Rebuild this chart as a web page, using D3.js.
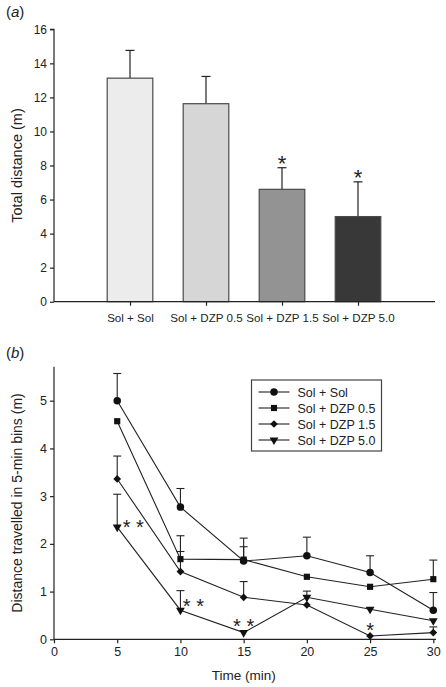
<!DOCTYPE html>
<html><head><meta charset="utf-8">
<script src="https://cdn.jsdelivr.net/npm/d3@7"></script>
<style>body{margin:0;background:#fff}svg{display:block;font-family:"Liberation Sans",Arial,sans-serif}</style>
</head><body><svg id="c" width="446" height="687"></svg>
<script>
// Panel (a)
const groups = ["Sol + Sol","Sol + DZP 0.5","Sol + DZP 1.5","Sol + DZP 5.0"];
const totalDist = [13.13, 11.63, 6.6, 5.0];
const totalErr = [1.63, 1.6, 1.27, 2.04];
const totalSig = ["", "", "*", "*"];
const barFills = ["#ececec","#d6d6d6","#939393","#383838"];
const yTicksA = [0,2,4,6,8,10,12,14,16];

// Panel (b)
const times = [5,10,15,20,25,30];
const xTicksB = [0,5,10,15,20,25,30];
const yTicksB = [0,1,2,3,4,5];
const sSolSol = [5.0, 2.77, 1.64, 1.75, 1.40, 0.61];
const sDZP05  = [4.57, 1.68, 1.67, 1.31, 1.10, 1.26];
const sDZP15  = [3.36, 1.42, 0.88, 0.72, 0.07, 0.14];
const sDZP50  = [2.35, 0.61, 0.14, 0.88, 0.63, 0.39];
const eSolSol = [0.57, 0.39, 0.48, 0.39, 0.35, 0.37];
const eDZP05  = [0, 0.49, 0.27, 0, 0, 0.40];
const eDZP15  = [0.48, 0.42, 0.33, 0, 0, 0.12];
const eDZP50  = [0.69, 0.41, 0, 0.13, 0, 0];
const seriesNames = groups;
const seriesSymbols = ["circle","square","diamond","triangleDown"];
const stars = [{t:5,v:2.44,s:"* *",dx:16},{t:10,v:0.79,s:"* *",dx:13},{t:15,v:0.37,s:"* *",dx:0},{t:25,v:0.28,s:"*",dx:0}];

const svg = d3.select("#c");
const ink = "#222";

// ---------- Panel (a) ----------
const xA = d3.scaleLinear().domain([0,5]).range([54,434]);
const yA = d3.scaleLinear().domain([0,16]).range([301.7,29.3]);
const gA = svg.append("g");
gA.append("text").attr("x",6).attr("y",17).attr("font-size",15).attr("fill",ink)
  .html('(<tspan font-style="italic">a</tspan>)');

const barW = xA(0.6)-xA(0);
groups.forEach((g,i)=>{
  const cx = xA(i+1);
  const top = yA(totalDist[i]+totalErr[i]);
  gA.append("line").attr("x1",cx).attr("x2",cx).attr("y1",yA(totalDist[i])).attr("y2",top)
    .attr("stroke",ink).attr("stroke-width",1.2);
  gA.append("line").attr("x1",cx-4.5).attr("x2",cx+4.5).attr("y1",top).attr("y2",top)
    .attr("stroke",ink).attr("stroke-width",1.2);
  gA.append("rect").attr("x",cx-barW/2).attr("y",yA(totalDist[i])).attr("width",barW)
    .attr("height",yA(0)-yA(totalDist[i])).attr("fill",barFills[i]).attr("stroke","#4a4a4a").attr("stroke-width",1.2);
  if (totalSig[i]) gA.append("text").attr("x",cx).attr("y",top+3)
    .attr("text-anchor","middle").attr("font-size",22).attr("fill",ink).text(totalSig[i]);
});

const axA = gA.append("g").attr("transform","translate(54,0)")
  .call(d3.axisLeft(yA).tickValues(yTicksA).tickSize(4).tickPadding(3));
axA.select(".domain").attr("d",`M-4,${yA(16)}H0V${yA(0)}`);
const xAxA = gA.append("g").attr("transform",`translate(0,${yA(0)})`)
  .call(d3.axisBottom(xA).tickValues([1,2,3,4]).tickSize(4).tickPadding(8).tickFormat((d)=>groups[d-1]));
xAxA.select(".domain").attr("d",`M54,0H435`);
[axA,xAxA].forEach(a=>{
  a.selectAll("path,line").attr("stroke",ink).attr("stroke-width",1.2);
  a.selectAll("text").attr("font-size",12).attr("fill",ink).attr("font-family","Liberation Sans, Arial, sans-serif");
});
xAxA.selectAll("text").attr("font-size",11.6);
gA.append("text").attr("transform",`translate(22,${(yA(16)+yA(0))/2}) rotate(-90)`)
  .attr("text-anchor","middle").attr("font-size",14.5).attr("fill",ink).text("Total distance (m)");

// ---------- Panel (b) ----------
const xB = d3.scaleLinear().domain([0,30]).range([54,433.3]);
const yB = d3.scaleLinear().domain([0,5]).range([639.3,400.7]);
const gB = svg.append("g");
gB.append("text").attr("x",6).attr("y",358).attr("font-size",15).attr("fill",ink)
  .html('(<tspan font-style="italic">b</tspan>)');

const axB = gB.append("g").attr("transform","translate(54,0)")
  .call(d3.axisLeft(yB).tickValues(yTicksB).tickSize(4).tickPadding(3).tickFormat(d3.format("d")));
axB.select(".domain").attr("d",`M0,366.7V${yB(0)}`);
const xAxB = gB.append("g").attr("transform",`translate(0,${yB(0)})`)
  .call(d3.axisBottom(xB).tickValues(xTicksB).tickSize(4).tickPadding(4).tickFormat(d3.format("d")));
xAxB.select(".domain").attr("d",`M54,0H436`);
[axB,xAxB].forEach(a=>{
  a.selectAll("path,line").attr("stroke",ink).attr("stroke-width",1.2);
  a.selectAll("text").attr("font-size",12.5).attr("fill",ink).attr("font-family","Liberation Sans, Arial, sans-serif");
});
gB.append("text").attr("transform",`translate(22,${(366.7+yB(0))/2}) rotate(-90)`)
  .attr("text-anchor","middle").attr("font-size",14).attr("fill",ink).text("Distance travelled in 5-min bins (m)");
gB.append("text").attr("x",xB(15)).attr("y",680).attr("text-anchor","middle").attr("font-size",13.5).attr("fill",ink).text("Time (min)");

const seriesVals = [sSolSol,sDZP05,sDZP15,sDZP50];
const seriesErr = [eSolSol,eDZP05,eDZP15,eDZP50];
const symMap = {circle:d3.symbolCircle, square:d3.symbolSquare, diamond:d3.symbolSquare, triangleDown:d3.symbolTriangle};
const symSize = {circle:44, square:38, diamond:30, triangleDown:34};
const symRot = {circle:0, square:0, diamond:45, triangleDown:180};
function drawSym(g,name,x,y){
  g.append("path").attr("d",d3.symbol().type(symMap[name]).size(symSize[name])())
    .attr("transform",`translate(${x},${y}) rotate(${symRot[name]})`).attr("fill","#111");
}
const line = d3.line().x((d,i)=>xB(times[i])).y(d=>yB(d));
seriesVals.forEach((vals,k)=>{
  vals.forEach((v,i)=>{
    const e = seriesErr[k][i];
    if (!e) return;
    const x = xB(times[i]);
    gB.append("line").attr("x1",x).attr("x2",x).attr("y1",yB(v)).attr("y2",yB(v+e)).attr("stroke",ink).attr("stroke-width",1.1);
    gB.append("line").attr("x1",x-4).attr("x2",x+4).attr("y1",yB(v+e)).attr("y2",yB(v+e)).attr("stroke",ink).attr("stroke-width",1.1);
  });
});
seriesVals.forEach((vals,k)=>{
  gB.append("path").attr("d",line(vals)).attr("fill","none").attr("stroke",ink).attr("stroke-width",1.1);
});
seriesVals.forEach((vals,k)=>{
  vals.forEach((v,i)=>drawSym(gB,seriesSymbols[k],xB(times[i]),yB(v)));
});
stars.forEach(s=>{
  gB.append("text").attr("x",xB(s.t)+s.dx).attr("y",yB(s.v)+11).attr("text-anchor","middle")
    .attr("font-size",20).attr("fill",ink).text(s.s);
});

// legend
const lg = gB.append("g").attr("transform","translate(251.5,380)");
lg.append("rect").attr("width",130).attr("height",71).attr("fill","#fff").attr("stroke","#444").attr("stroke-width",1.2);
seriesNames.forEach((n,k)=>{
  const y = 12 + k*16;
  lg.append("line").attr("x1",7).attr("x2",38).attr("y1",y).attr("y2",y).attr("stroke",ink).attr("stroke-width",1.1);
  drawSym(lg,seriesSymbols[k],22.5,y);
  lg.append("text").attr("x",46).attr("y",y+4.5).attr("font-size",12.5).attr("fill",ink).text(n);
});
</script></body></html>
